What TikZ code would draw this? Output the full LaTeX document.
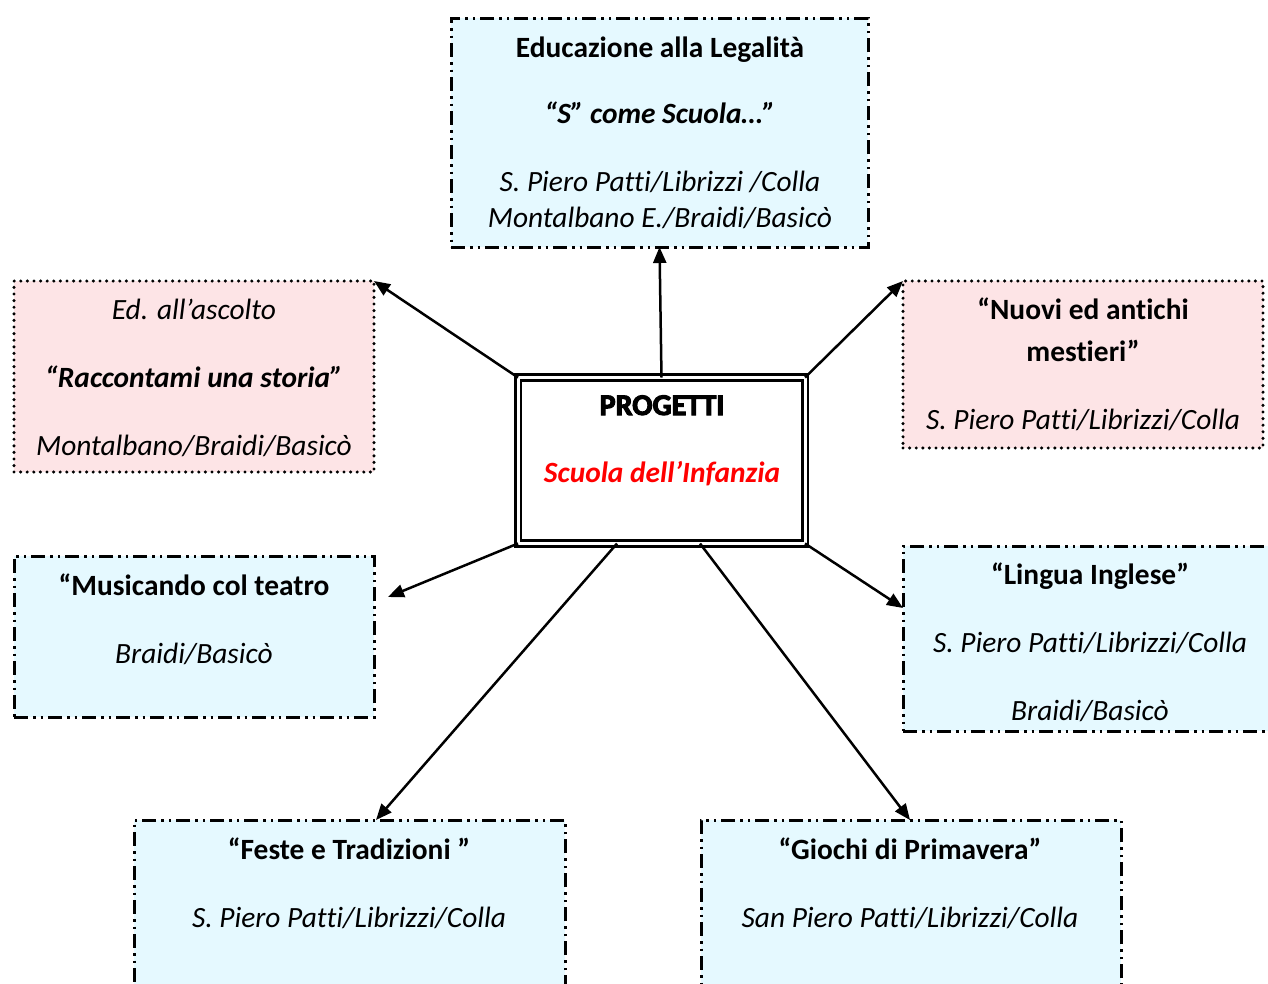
\documentclass[tikz,border=0pt]{standalone}
\usepackage{fontspec}
\setmainfont[RawFeature=-liga,RawFeature=-clig,RawFeature=-calt,RawFeature=-dlig]{Carlito}
\newfontfamily\heavyfont[FakeBold=3.5,RawFeature=-liga]{Carlito Bold}
\usetikzlibrary{arrows.meta}
\definecolor{cyanfill}{RGB}{229,249,255}
\definecolor{pinkfill}{RGB}{253,228,230}
\definecolor{redtext}{RGB}{255,0,0}
\tikzset{
  cyanbox/.style={draw=black, fill=cyanfill, line width=3pt, rectangle, inner sep=0pt, outer sep=0pt,
    dash pattern=on 14pt off 5pt on 2.5pt off 5pt on 2.5pt off 5pt},
  pinkbox/.style={draw=black, fill=pinkfill, line width=3.4pt, rectangle, inner sep=0pt, outer sep=0pt,
    line cap=round, dash pattern=on 0pt off 6.6pt},
  centerbox/.style={draw=black, double=white, line width=2.6pt, double distance=3pt, rectangle,
    inner sep=0pt, outer sep=0pt},
  txt/.style={anchor=base, inner sep=0pt, outer sep=0pt, font=\fontsize{29.4}{35}\selectfont},
  bt/.style={txt, font=\fontsize{29.4}{35}\selectfont\bfseries},
  it/.style={txt, font=\fontsize{29.4}{35}\selectfont\itshape},
  bit/.style={txt, font=\fontsize{29.4}{35}\selectfont\bfseries\itshape},
  conn/.style={draw=black, line width=2.5pt, -{Triangle[length=16pt,width=13pt]}}
}
\begin{document}
\begin{tikzpicture}[x=1pt,y=-1pt]
\useasboundingbox (0,0) rectangle (1268,983);
\clip (0,0) rectangle (1268,983);
\fill[white] (0,0) rectangle (1268,983);

% boxes
\node[cyanbox, minimum width=417pt, minimum height=229pt] (top) at (659.5,132.5) {};
\node[pinkbox, minimum width=360pt, minimum height=191pt] (lp) at (194,376.5) {};
\node[pinkbox, minimum width=360pt, minimum height=167pt] (rp) at (1083,364.5) {};
\node[centerbox, minimum width=287pt, minimum height=166pt] (c) at (661.5,460.5) {};
\node[cyanbox, minimum width=360pt, minimum height=161pt] (mus) at (194,636.5) {};
\node[cyanbox, minimum width=377pt, minimum height=185pt] (ling) at (1091.5,638.5) {};
\node[cyanbox, minimum width=431pt, minimum height=180pt] (feste) at (349.5,910) {};
\node[cyanbox, minimum width=420pt, minimum height=180pt] (giochi) at (911,910) {};

% texts
\node[bt]  (t1) at (660,57)  {Educazione alla Legalità};
\node[bit] (t2) at (660,123) {“S” come Scuola…”};
\node[it]  (t3) at (660,191) {S. Piero Patti/Librizzi /Colla};
\node[it]  (t4) at (660,227) {Montalbano E./Braidi/Basicò};

\node[it]  (l1) at (194,319) {Ed. all’ascolto};
\node[bit] (l2) at (194,387) {“Raccontami una storia”};
\node[it]  (l3) at (194,455) {Montalbano/Braidi/Basicò};

\node[bt]  (r1) at (1083,319) {“Nuovi ed antichi};
\node[bt]  (r2) at (1083,361) {mestieri”};
\node[it]  (r3) at (1083,429) {S. Piero Patti/Librizzi/Colla};

\node[txt, font=\fontsize{30}{36}\selectfont\heavyfont] (c1) at (662,415) {PROGETTI};
\node[bit, text=redtext] (c2) at (662,482) {Scuola dell’Infanzia};

\node[bt]  (m1) at (194,595) {“Musicando col teatro};
\node[it]  (m2) at (194,663) {Braidi/Basicò};

\node[bt]  (g1) at (1090,584) {“Lingua Inglese”};
\node[it]  (g2) at (1090,652) {S. Piero Patti/Librizzi/Colla};
\node[it]  (g3) at (1090,720) {Braidi/Basicò};

\node[bt]  (f1) at (349,859) {“Feste e Tradizioni ”};
\node[it]  (f2) at (349,927) {S. Piero Patti/Librizzi/Colla};

\node[bt]  (p1) at (910,859) {“Giochi di Primavera”};
\node[it]  (p2) at (910,927) {San Piero Patti/Librizzi/Colla};

% connectors
\coordinate (musend) at (388,597);
\coordinate (lingend) at (903,608);
\coordinate (festeend) at (376,820);
\coordinate (giochiend) at (910,820);
\coordinate (cb1) at (617,543.5);
\coordinate (cb2) at (700,543.5);
\draw[conn] (c.north) -- (top.south);
\draw[conn] (c.north west) -- (lp.north east);
\draw[conn] (c.north east) -- (rp.north west);
\draw[conn] (c.south west) -- (musend);
\draw[conn] (c.south east) -- (lingend);
\draw[conn] (cb1) -- (festeend);
\draw[conn] (cb2) -- (giochiend);
\end{tikzpicture}
\end{document}
